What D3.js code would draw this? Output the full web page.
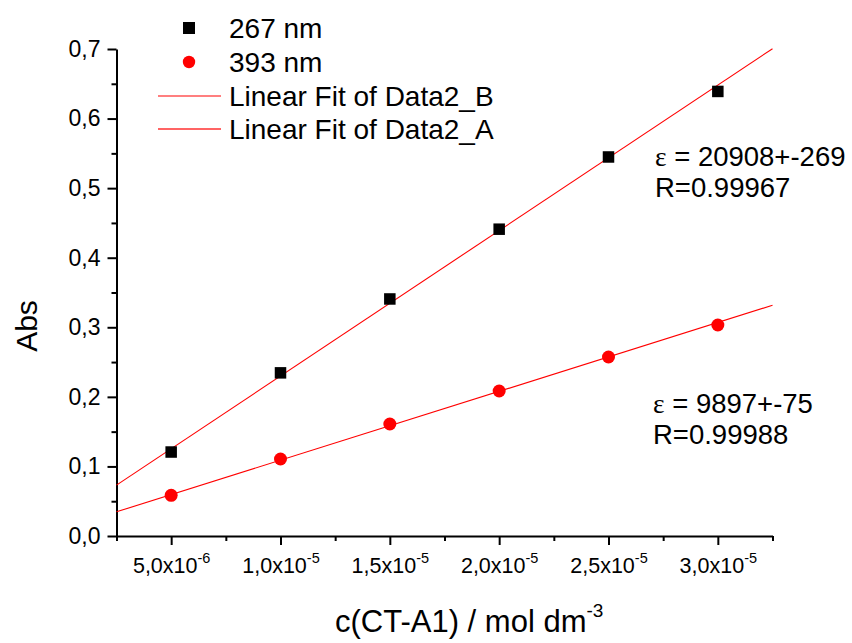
<!DOCTYPE html>
<html>
<head>
<meta charset="utf-8">
<script src="https://cdn.jsdelivr.net/npm/d3@7"></script>
<style>
  html, body { margin: 0; padding: 0; background: #fff; }
  svg text { font-family: "Liberation Sans", Arial, sans-serif; fill: #000; }
</style>
</head>
<body>
<svg id="chart" width="852" height="643"></svg>
<script>
// Concentration of CT-A1 (mol dm^-3)
const concentration = [5e-6, 1e-5, 1.5e-5, 2e-5, 2.5e-5, 3e-5];
// Absorbance at the two wavelengths
const abs267 = [0.1207, 0.2345, 0.3407, 0.4410, 0.5448, 0.6390];
const abs393 = [0.0585, 0.1107, 0.1610, 0.2084, 0.2573, 0.3033];
// Molar absorption coefficients (fit slopes) and correlation
const fitSlopes = [20908, 9897];
const fitErrors = [269, 75];
const fitR = ["0.99967", "0.99988"];

const xDomain = [2.5e-6, 3.25e-5];
const xMajorTicks = [5e-6, 1e-5, 1.5e-5, 2e-5, 2.5e-5, 3e-5];
const xMinorTicks = [2.5e-6, 7.5e-6, 1.25e-5, 1.75e-5, 2.25e-5, 2.75e-5, 3.25e-5];
const xTickMantissa = ["5,0", "1,0", "1,5", "2,0", "2,5", "3,0"];
const xTickExponent = ["-6", "-5", "-5", "-5", "-5", "-5"];

const yDomain = [0, 0.7];
const yMajorTicks = [0, 0.1, 0.2, 0.3, 0.4, 0.5, 0.6, 0.7];
const yMinorTicks = [0.05, 0.15, 0.25, 0.35, 0.45, 0.55, 0.65];
const yTickLabels = ["0,0", "0,1", "0,2", "0,3", "0,4", "0,5", "0,6", "0,7"];

const legendLabels = ["267 nm", "393 nm", "Linear Fit of Data2_B", "Linear Fit of Data2_A"];

const svg = d3.select("#chart");
const x = d3.scaleLinear().domain(xDomain).range([116.5, 772.5]);
const y = d3.scaleLinear().domain(yDomain).range([536, 49]);

// ---- axes ----
const xAxisG = svg.append("g").attr("transform", `translate(0,${y(0)})`);
xAxisG.call(d3.axisBottom(x).tickValues(xMinorTicks).tickSize(5).tickSizeOuter(0).tickFormat(""));
xAxisG.call(g => g.select(".domain").remove());
const xMajG = svg.append("g").attr("transform", `translate(0,${y(0)})`)
  .call(d3.axisBottom(x).tickValues(xMajorTicks).tickSize(9).tickSizeOuter(0).tickFormat(""));
xMajG.selectAll(".tick text").remove();
xMajG.selectAll(".tick").append("text")
  .attr("y", 37)
  .attr("text-anchor", "middle")
  .style("font-size", "21.5px")
  .each(function (d, i) {
    const t = d3.select(this);
    t.append("tspan").text(xTickMantissa[i] + "x10");
    t.append("tspan").attr("dy", -10).style("font-size", "14.5px").text(xTickExponent[i]);
  });

const yMinG = svg.append("g").attr("transform", `translate(${x(xDomain[0])},0)`)
  .call(d3.axisLeft(y).tickValues(yMinorTicks).tickSize(5).tickSizeOuter(0).tickFormat(""));
yMinG.select(".domain").remove();
const yMajG = svg.append("g").attr("transform", `translate(${x(xDomain[0])},0)`)
  .call(d3.axisLeft(y).tickValues(yMajorTicks).tickSize(9).tickSizeOuter(0)
    .tickFormat((d, i) => yTickLabels[i]).tickPadding(7));
yMajG.selectAll(".tick text").style("font-size", "23px");

svg.selectAll(".domain, .tick line").attr("stroke", "#000").attr("stroke-width", 2);
svg.selectAll("g").attr("font-family", null).attr("font-size", null);

// ---- axis titles ----
const xTitle = svg.append("text")
  .attr("x", 335).attr("y", 632)
  .style("font-size", "31px");
xTitle.append("tspan").text("c(CT-A1) / mol dm");
xTitle.append("tspan").attr("dy", -15).style("font-size", "19px").text("-3");

svg.append("text")
  .attr("transform", `translate(37,${326}) rotate(-90)`)
  .attr("text-anchor", "middle")
  .style("font-size", "30px")
  .text("Abs");

// ---- fit lines ----
const meanX = d3.mean(concentration);
const series = [abs267, abs393];
const fits = series.map((vals, i) => {
  const slope = fitSlopes[i];
  const intercept = d3.mean(vals) - slope * meanX;
  return xDomain.map(c => [c, intercept + slope * c]);
});
const line = d3.line().x(d => x(d[0])).y(d => y(d[1]));
svg.selectAll("path.fit").data(fits).enter().append("path")
  .attr("class", "fit")
  .attr("d", line)
  .attr("fill", "none")
  .attr("stroke", "#ff0000")
  .attr("stroke-width", 1.1);

// ---- data points ----
const sq = 11.5;
svg.selectAll("rect.p267").data(concentration).enter().append("rect")
  .attr("x", (d) => x(d) - sq / 2)
  .attr("y", (d, i) => y(abs267[i]) - sq / 2)
  .attr("width", sq).attr("height", sq)
  .attr("fill", "#000");
svg.selectAll("circle.p393").data(concentration).enter().append("circle")
  .attr("cx", d => x(d))
  .attr("cy", (d, i) => y(abs393[i]))
  .attr("r", 6.5)
  .attr("fill", "#ff0000");

// ---- annotations ----
const annoPos = [[655, 166], [653, 413]];
annoPos.forEach(([ax, ay], i) => {
  const t1 = svg.append("text").attr("x", ax).attr("y", ay).style("font-size", "27.5px");
  t1.append("tspan").style("font-family", "'Liberation Serif', 'Times New Roman', serif").text("ε");
  t1.append("tspan").text(` = ${fitSlopes[i]}+-${fitErrors[i]}`);
  svg.append("text").attr("x", ax).attr("y", ay + 31).style("font-size", "27.5px").text(`R=${fitR[i]}`);
});

// ---- legend ----
const lg = svg.append("g");
const rowY = [28, 62, 96, 129];
lg.append("rect").attr("x", 189 - 6).attr("y", rowY[0] - 6).attr("width", 12).attr("height", 12).attr("fill", "#000");
lg.append("circle").attr("cx", 189).attr("cy", rowY[1]).attr("r", 6.2).attr("fill", "#ff0000");
lg.append("line").attr("x1", 158).attr("x2", 221).attr("y1", rowY[2]).attr("y2", rowY[2])
  .attr("stroke", "#ff0000").attr("stroke-width", 1.1);
lg.append("line").attr("x1", 158).attr("x2", 221).attr("y1", rowY[3]).attr("y2", rowY[3])
  .attr("stroke", "#ff3030").attr("stroke-width", 1.4);
lg.selectAll("text").data(legendLabels).enter().append("text")
  .attr("x", 229)
  .attr("y", (d, i) => rowY[i] + 10)
  .style("font-size", "28px")
  .text(d => d);
</script>
</body>
</html>
